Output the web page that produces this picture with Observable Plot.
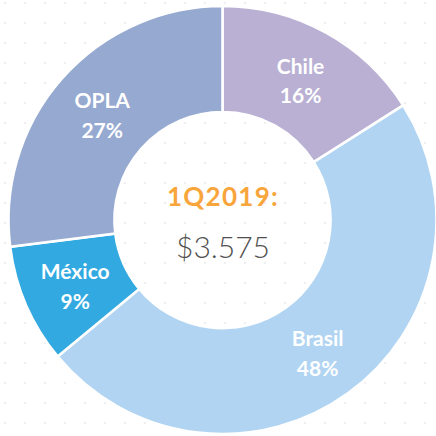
<!DOCTYPE html>
<html>
<head>
<meta charset="utf-8">
<script src="https://cdn.jsdelivr.net/npm/d3@7"></script>
<script src="https://cdn.jsdelivr.net/npm/@observablehq/plot@0.6"></script>
<style>
  html, body { margin: 0; padding: 0; }
  body {
    width: 436px; height: 436px; overflow: hidden;
    background-color: #ffffff;
    background-image: radial-gradient(circle, #efefef 0.9px, rgba(255,255,255,0) 1.6px);
    background-size: 20px 20px;
    background-position: -5px -7px;
  }
  g[fill="#f8a53b"] text { letter-spacing: 1.3px; }
</style>
</head>
<body>
<div id="chart"></div>
<script>
// Data
const names = ["Chile", "Brasil", "México", "OPLA"];
const shares = [16, 48, 9, 27];
const colors = ["#b9b0d4", "#b0d4f1", "#32a9e1", "#96a9d0"];
const periodLabel = "1Q2019:";
const totalLabel = "$3.575";

const rows = names.map((name, i) => ({name, share: shares[i]}));
const innerRatio = 0.505;

const pie = d3.pie().sort(null).value(d => d.share);
const arcs = pie(rows);
const unitArc = d3.arc().innerRadius(innerRatio).outerRadius(1);
const labels = arcs.map(a => {
  const [cx, cy] = unitArc.centroid(a);
  return {x: cx, y: -cy, text: `${a.data.name}\n${a.data.share}%`};
});

const color = Plot.scale({color: {domain: names, range: colors}});

const slices = (index, scales) => {
  const cx = scales.x(0), cy = scales.y(0);
  const R = scales.x(1) - scales.x(0);
  const arc = d3.arc().innerRadius(R * innerRatio).outerRadius(R);
  const g = d3.create("svg:g").attr("transform", `translate(${cx},${cy})`);
  g.selectAll("path")
    .data(arcs)
    .join("path")
    .attr("d", arc)
    .attr("fill", d => color.apply(d.data.name))
    .attr("stroke", "white")
    .attr("stroke-width", 2.6)
    .attr("stroke-linejoin", "miter");
  return g.node();
};

const chart = Plot.plot({
  width: 436,
  height: 436,
  margin: 0,
  style: {background: "transparent", overflow: "visible"},
  x: {domain: [-1, 1], range: [8.5, 436.5], axis: null},
  y: {domain: [-1, 1], range: [434.5, 5.5], axis: null},
  marks: [
    slices,
    Plot.text(labels, {
      x: "x", y: "y", text: "text",
      fill: "white", fontSize: 21, fontWeight: "bold",
      fontFamily: "Lato, 'Noto Sans', sans-serif",
      lineHeight: 1.42, textAnchor: "middle", lineAnchor: "middle"
    }),
    Plot.text([periodLabel], {
      x: () => 0, y: () => 0, text: d => d, dy: -23,
      fill: "#f8a53b", fontSize: 26, fontWeight: "bold",
      fontFamily: "Lato, 'Noto Sans', sans-serif",
      lineAnchor: "middle", textAnchor: "middle"
    }),
    Plot.text([totalLabel], {
      x: () => 0, y: () => 0, text: d => d, dy: 28,
      fill: "#505050", fontSize: 30, fontWeight: 300,
      fontFamily: "Lato, 'Noto Sans', sans-serif",
      lineAnchor: "middle", textAnchor: "middle"
    })
  ]
});
document.getElementById("chart").appendChild(chart);
</script>
</body>
</html>
